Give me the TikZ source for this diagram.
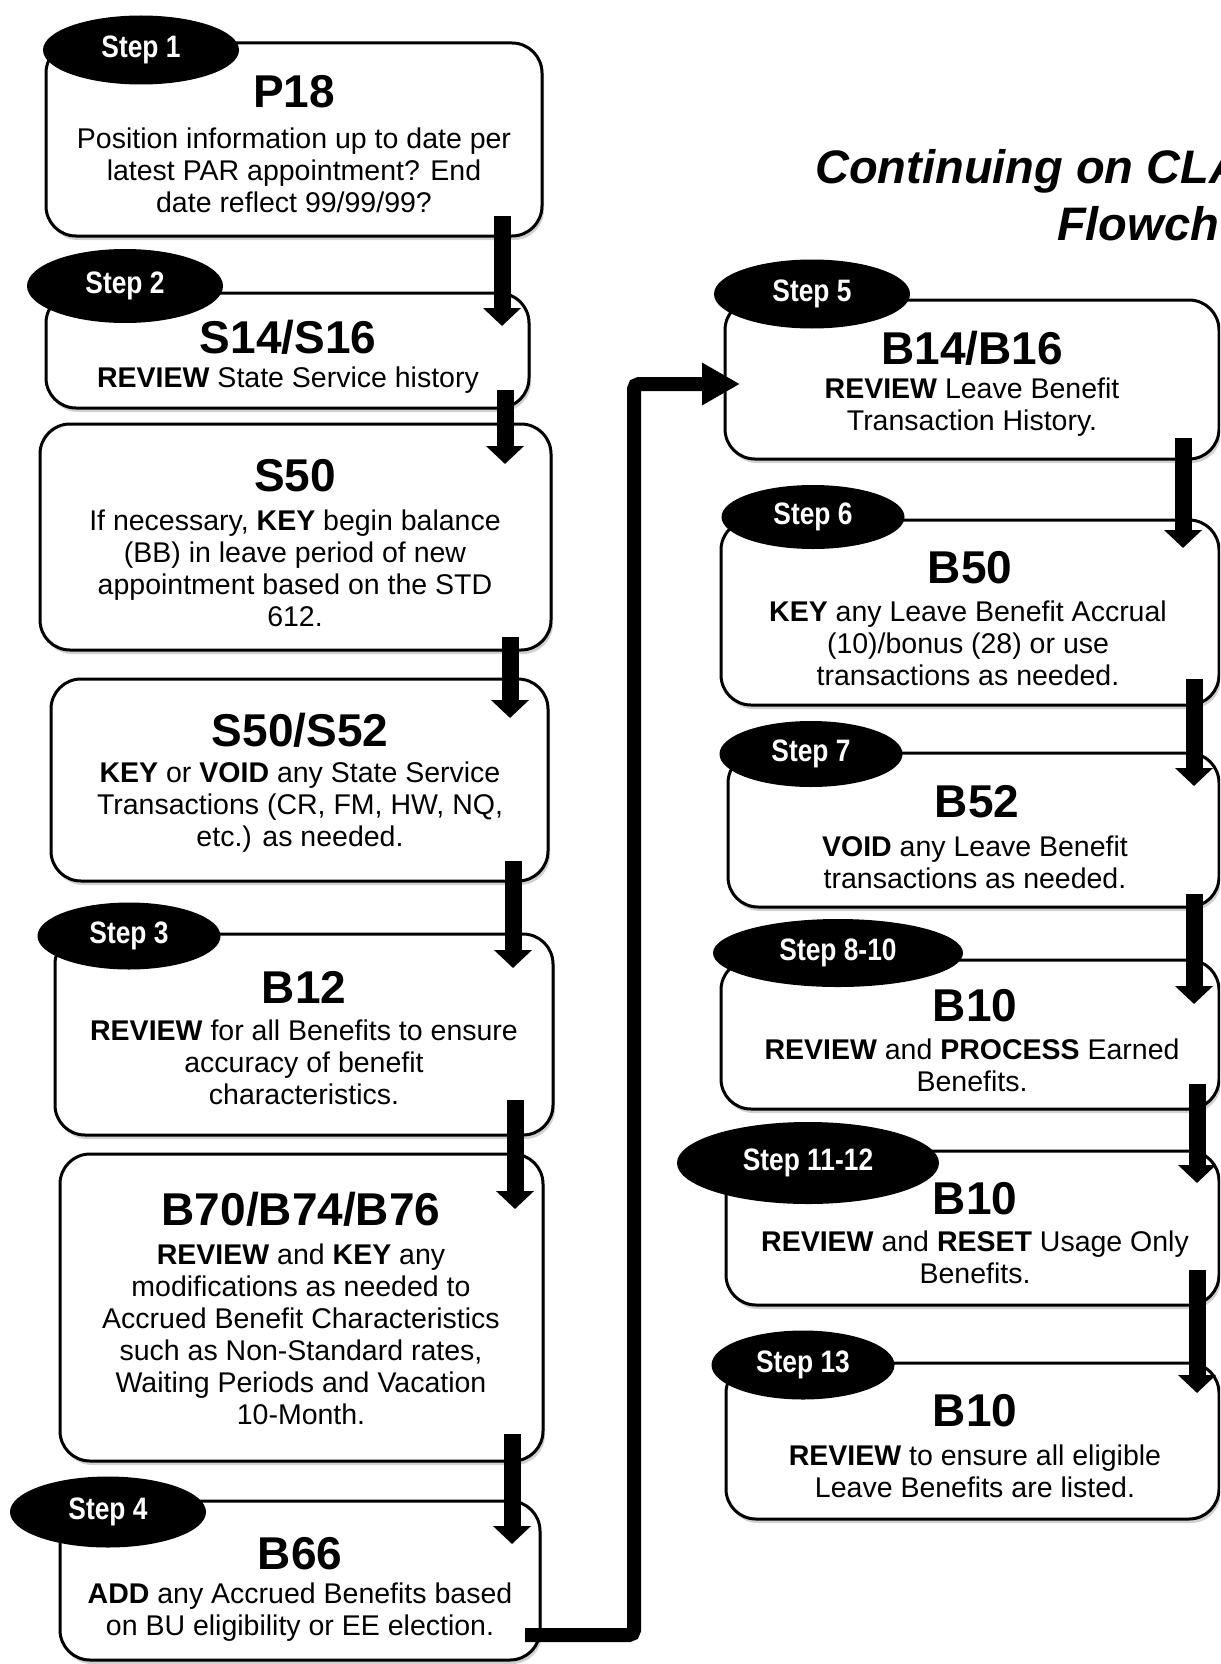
\documentclass[tikz,border=0pt]{standalone}
\usepackage{fontspec}
\setmainfont{Liberation Sans}
\newfontfamily\stepfont[FakeStretch=0.85]{Liberation Sans}
\usetikzlibrary{arrows.meta,shapes.geometric,fit,shadows}
\begin{document}
\begin{tikzpicture}[x=1pt,y=-1pt,
 box/.style={draw=black, line width=3pt, rounded corners=30pt, fill=white, inner sep=0pt,
   drop shadow={shadow xshift=2pt, shadow yshift=-4pt, fill=black!40, opacity=0.45}},
 steplabel/.style={ellipse, fill=black, text=white, inner sep=0pt,
   font=\stepfont\bfseries\fontsize{31}{34}\selectfont},
 ttl/.style={font=\bfseries\fontsize{46}{50}\selectfont, inner sep=0pt},
 body/.style={font=\fontsize{28.5}{32}\selectfont, align=center, inner sep=0pt},
 flow/.style={line width=17pt, -{Triangle[width=37pt,length=18pt]}},
 longflow/.style={line width=14pt, rounded corners=5pt, -{Triangle[width=40pt,length=38pt]}},
 head/.style={font=\bfseries\itshape\fontsize{47}{50}\selectfont, inner sep=0pt, anchor=base west},
]
\useasboundingbox (0,0) rectangle (1220,1664);
\clip (0,0) rectangle (1220,1664);
\fill[white] (0,0) rectangle (1220,1664);

% ---------- left column boxes ----------
\node[box, fit={(46,43) (542,236)}] (b1) {};
\node[box, fit={(46,293) (529,408)}] (b2) {};
\node[box, fit={(40,424) (551,650)}] (b3) {};
\node[box, fit={(51,679) (548,881)}] (b4) {};
\node[box, fit={(55,934) (553,1135)}] (b5) {};
\node[box, fit={(60,1154) (543,1461)}] (b6) {};
\node[box, fit={(60,1501) (540,1660)}] (b7) {};

% ---------- right column boxes ----------
\node[box, fit={(725,300) (1219,459)}] (r1) {};
\node[box, fit={(721,520) (1219,705)}] (r2) {};
\node[box, fit={(728,753) (1219,907)}] (r3) {};
\node[box, fit={(721,960) (1219,1109)}] (r4) {};
\node[box, fit={(726,1151) (1219,1305)}] (r5) {};
\node[box, fit={(726,1363) (1219,1519)}] (r6) {};

% ---------- step labels ----------
\node[steplabel, minimum width=196pt, minimum height=69pt] (s1) at (141,50) {Step 1};
\node[steplabel, minimum width=196pt, minimum height=74pt] (s2) at (125,286) {Step 2};
\node[steplabel, minimum width=183pt, minimum height=67pt] (s3) at (129,936) {Step 3};
\node[steplabel, minimum width=196pt, minimum height=71pt] (s4) at (108,1512) {Step 4};
\node[steplabel, minimum width=196pt, minimum height=69pt] (s5) at (812,294) {Step 5};
\node[steplabel, minimum width=183pt, minimum height=64pt] (s6) at (813,517) {Step 6};
\node[steplabel, minimum width=183pt, minimum height=66pt] (s7) at (811,754) {Step 7};
\node[steplabel, minimum width=250pt, minimum height=68pt] (s8) at (838,953) {Step 8-10};
\node[steplabel, minimum width=262pt, minimum height=82pt] (s11) at (808,1163) {Step 11-12};
\node[steplabel, minimum width=183pt, minimum height=69pt] (s13) at (803,1365) {Step 13};

% ---------- heading ----------
\node[head] (h1) at (815,183) {Continuing on CLA};
\node[head] (h2) at (1057,240) {Flowch};

% ---------- texts left ----------
\node[ttl] (t1) at (294,92) {P18};
\node[body] (x1) at (294,170) {Position information up to date per\\latest PAR appointment? End\\date reflect 99/99/99?};

\node[ttl] (t2) at (288,337) {S14/S16};
\node[body] (x2) at (288,380) {\textbf{REVIEW} State Service history};

\node[ttl] (t3) at (295,476) {S50};
\node[body] (x3) at (295,568) {If necessary, \textbf{KEY} begin balance\\(BB) in leave period of new\\appointment based on the STD\\612.};

\node[ttl] (t4) at (300,730) {S50/S52};
\node[body] (x4) at (300,807) {\textbf{KEY} or \textbf{VOID} any State Service\\Transactions (CR, FM, HW, NQ,\\etc.) as needed.};

\node[ttl] (t5) at (304,987) {B12};
\node[body] (x5) at (304,1062) {\textbf{REVIEW} for all Benefits to ensure\\accuracy of benefit\\characteristics.};

\node[ttl] (t6) at (301,1209) {B70/B74/B76};
\node[body] (x6) at (301,1334) {\textbf{REVIEW} and \textbf{KEY} any\\modifications as needed to\\Accrued Benefit Characteristics\\such as Non-Standard rates,\\Waiting Periods and Vacation\\10-Month.};

\node[ttl] (t7) at (300,1554) {B66};
\node[body] (x7) at (300,1612) {\textbf{ADD} any Accrued Benefits based\\on BU eligibility or EE election.};

% ---------- texts right ----------
\node[ttl] (t8) at (972,348) {B14/B16};
\node[body] (x8) at (972,407) {\textbf{REVIEW} Leave Benefit\\Transaction History.};

\node[ttl] (t9) at (970,568) {B50};
\node[body] (x9) at (968,643) {\textbf{KEY} any Leave Benefit Accrual\\(10)/bonus (28) or use\\transactions as needed.};

\node[ttl] (t10) at (977,802) {B52};
\node[body] (x10) at (975,862) {\textbf{VOID} any Leave Benefit\\transactions as needed.};

\node[ttl] (t11) at (975,1006) {B10};
\node[body] (x11) at (972,1065) {\textbf{REVIEW} and \textbf{PROCESS} Earned\\Benefits.};

\node[ttl] (t12) at (975,1199) {B10};
\node[body] (x12) at (975,1257) {\textbf{REVIEW} and \textbf{RESET} Usage Only\\Benefits.};

\node[ttl] (t13) at (975,1411) {B10};
\node[body] (x13) at (975,1471) {\textbf{REVIEW} to ensure all eligible\\Leave Benefits are listed.};

% ---------- connectors ----------
\coordinate (a1s) at (502,216);  \coordinate (a1e) at (502,326);
\coordinate (a2s) at (505,390);  \coordinate (a2e) at (505,464);
\coordinate (a3s) at (510,637);  \coordinate (a3e) at (510,718);
\coordinate (a4s) at (513,861);  \coordinate (a4e) at (513,968);
\coordinate (a5s) at (515,1100); \coordinate (a5e) at (515,1209);
\coordinate (a6s) at (512,1434); \coordinate (a6e) at (512,1544);
\coordinate (a7s) at (525,1635); \coordinate (a7c1) at (634,1635);
\coordinate (a7c2) at (634,384); \coordinate (a7e) at (740,384);
\coordinate (c1s) at (1183,438);  \coordinate (c1e) at (1183,548);
\coordinate (c2s) at (1194,679);  \coordinate (c2e) at (1194,786);
\coordinate (c3s) at (1194,894);  \coordinate (c3e) at (1194,1004);
\coordinate (c4s) at (1197,1084); \coordinate (c4e) at (1197,1183);
\coordinate (c5s) at (1197,1270); \coordinate (c5e) at (1197,1393);

\draw[flow] (a1s) -- (a1e);
\draw[flow] (a2s) -- (a2e);
\draw[flow] (a3s) -- (a3e);
\draw[flow] (a4s) -- (a4e);
\draw[flow] (a5s) -- (a5e);
\draw[flow] (a6s) -- (a6e);
\draw[longflow] (a7s) -- (a7c1) -- (a7c2) -- (a7e);
\draw[flow] (c1s) -- (c1e);
\draw[flow] (c2s) -- (c2e);
\draw[flow] (c3s) -- (c3e);
\draw[flow] (c4s) -- (c4e);
\draw[flow] (c5s) -- (c5e);
\end{tikzpicture}
\end{document}
